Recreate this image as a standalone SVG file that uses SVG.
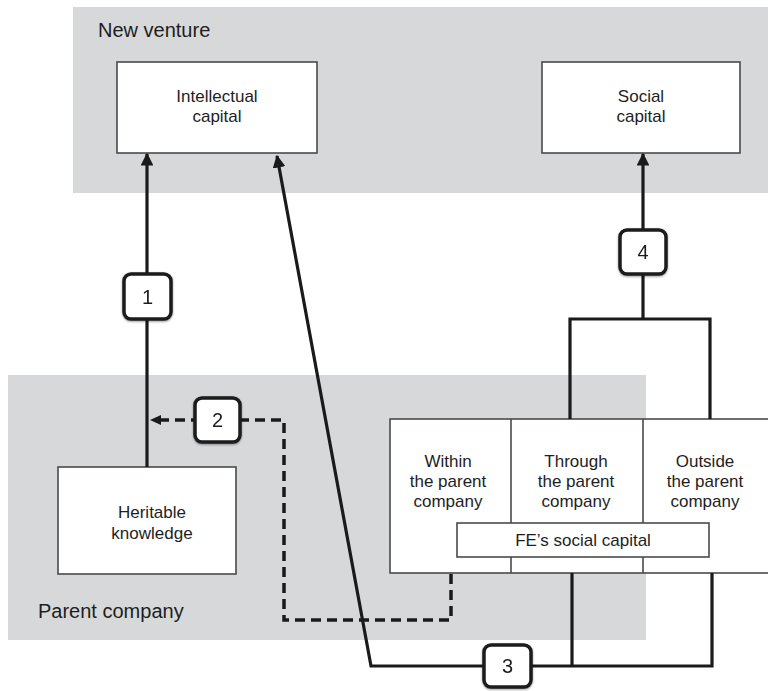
<svg xmlns="http://www.w3.org/2000/svg" width="768" height="691" viewBox="0 0 768 691">
<style>
.region{fill:#d7d8da}
.box{fill:#fff;stroke:#4a4a4a;stroke-width:1.6}
.num{fill:#fff;stroke:#1a1a1a;stroke-width:3.5}
.t{font-family:"Liberation Sans",Arial,sans-serif;fill:#1e1e1e;text-anchor:middle;font-size:17px}
.big{font-family:"Liberation Sans",Arial,sans-serif;fill:#1e1e1e;font-size:20px}
.n{font-family:"Liberation Sans",Arial,sans-serif;fill:#1e1e1e;text-anchor:middle;font-size:20px}
.line{fill:none;stroke:#1a1a1a;stroke-width:3.2;stroke-linejoin:miter}
.dash{fill:none;stroke:#1a1a1a;stroke-width:3.5;stroke-dasharray:10,6}
</style>
<defs>
<marker id="ah" viewBox="0 0 10 10" refX="9" refY="5" markerWidth="4" markerHeight="4" orient="auto" markerUnits="strokeWidth">
<path d="M0,0 L10,5 L0,10 z" fill="#1a1a1a"/>
</marker>
<filter id="sh" x="-20%" y="-20%" width="140%" height="140%">
<feGaussianBlur in="SourceAlpha" stdDeviation="1.2"/>
<feOffset dx="0" dy="1" result="b"/>
<feComponentTransfer><feFuncA type="linear" slope="0.4"/></feComponentTransfer>
<feMerge><feMergeNode/><feMergeNode in="SourceGraphic"/></feMerge>
</filter>
</defs>

<g id="new-venture">
<rect class="region" x="73" y="7" width="700" height="186"/>
<text class="big" x="98" y="37">New venture</text>
</g>
<g id="parent-company">
<rect class="region" x="8" y="375" width="638" height="265"/>
<text class="big" x="38" y="618">Parent company</text>
</g>

<g id="intellectual-capital">
<rect class="box" x="117" y="62" width="200" height="91"/>
<text class="t" x="217" y="102">Intellectual</text>
<text class="t" x="217" y="122">capital</text>
</g>
<g id="social-capital">
<rect class="box" x="542" y="62" width="198" height="91"/>
<text class="t" x="641" y="102">Social</text>
<text class="t" x="641" y="122">capital</text>
</g>
<g id="heritable-knowledge">
<rect class="box" x="58" y="467" width="178" height="107"/>
<text class="t" x="152" y="518">Heritable</text>
<text class="t" x="152" y="539">knowledge</text>
</g>
<g id="fe-social-capital-panel">
<rect class="box" x="390" y="419" width="390" height="154"/>
<line x1="511" y1="419" x2="511" y2="573" stroke="#4a4a4a" stroke-width="1.6"/>
<line x1="643" y1="419" x2="643" y2="573" stroke="#4a4a4a" stroke-width="1.6"/>
<text class="t" x="448" y="467">Within</text>
<text class="t" x="448" y="487">the parent</text>
<text class="t" x="448" y="507">company</text>
<text class="t" x="576" y="467">Through</text>
<text class="t" x="576" y="487">the parent</text>
<text class="t" x="576" y="507">company</text>
<text class="t" x="705" y="467">Outside</text>
<text class="t" x="705" y="487">the parent</text>
<text class="t" x="705" y="507">company</text>
</g>
<g id="fe-social-capital">
<rect class="box" x="457" y="523" width="252" height="34"/>
<text class="t" x="583" y="546">FE’s social capital</text>
</g>

<g id="connectors">
<line class="line" x1="147" y1="467" x2="147" y2="154" marker-end="url(#ah)"/>
<polyline class="line" points="570,419 570,319 710,319 710,419"/>
<line class="line" x1="643" y1="319" x2="643" y2="154" marker-end="url(#ah)"/>
<polyline class="line" points="712,573 712,666 371,666 277,156" marker-end="url(#ah)"/>
<line class="line" x1="572" y1="573" x2="572" y2="666"/>
<polyline class="dash" points="451,574 451,620 284,620 284,420 153,420"/>
<path d="M150,420 L161,415 L161,425 z" fill="#1a1a1a"/>
</g>

<g id="step-1" filter="url(#sh)">
<rect class="num" x="124" y="274" width="47" height="45" rx="7"/>
<text class="n" x="147.5" y="304">1</text>
</g>
<g id="step-2" filter="url(#sh)">
<rect class="num" x="195" y="398" width="45" height="44" rx="7"/>
<text class="n" x="217.5" y="427">2</text>
</g>
<g id="step-3" filter="url(#sh)">
<rect class="num" x="484" y="645" width="47" height="42" rx="7"/>
<text class="n" x="507.5" y="673">3</text>
</g>
<g id="step-4" filter="url(#sh)">
<rect class="num" x="620" y="230" width="46" height="44" rx="7"/>
<text class="n" x="643" y="259">4</text>
</g>
</svg>
